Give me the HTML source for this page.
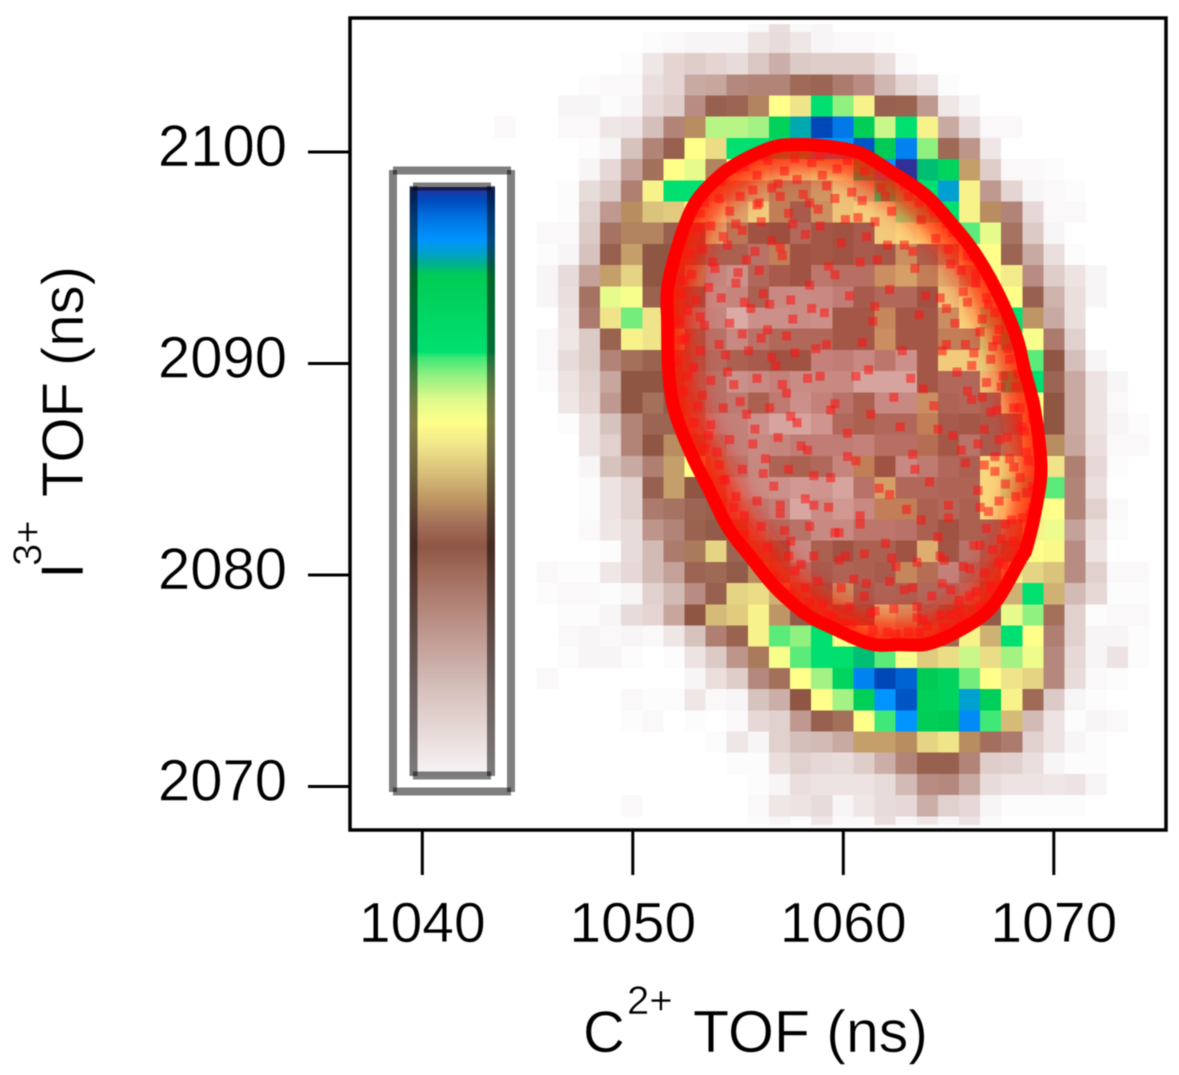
<!DOCTYPE html>
<html lang="en">
<head>
<meta charset="utf-8">
<title>C2+ vs I3+ TOF coincidence map</title>
<style>
html,body{margin:0;padding:0;background:#fff;width:1179px;height:1075px;overflow:hidden}
svg{display:block;filter:blur(0.45px)}
text{font-family:"Liberation Sans",Arial,sans-serif;fill:#000;stroke:#fff;stroke-width:0.5px}
</style>
</head>
<body>
<svg id="chart" xmlns="http://www.w3.org/2000/svg" width="1179" height="1075" viewBox="0 0 1179 1075">
  <defs>
    <clipPath id="plot-clip"><rect x="352" y="24" width="812" height="801"/></clipPath>
    <clipPath id="ellipse-clip"><path id="ellipse-clip-shape" d=""/></clipPath>
    <linearGradient id="bar-gradient" x1="0" y1="1" x2="0" y2="0"></linearGradient>
    <filter id="soft-edge" x="-20%" y="-20%" width="140%" height="140%"><feGaussianBlur stdDeviation="12"/></filter>
  </defs>
  <rect width="1179" height="1075" fill="#fff"/>
  <g id="heatmap" clip-path="url(#plot-clip)"></g>
  <g id="overlay" clip-path="url(#ellipse-clip)"></g>
  <g id="colorbar"></g>
  <rect x="350" y="18" width="816" height="812" fill="none" stroke="#000" stroke-width="3.5"/>
  <g id="axes"></g>
  <g>
    <text x="583" y="1052" font-size="58">C</text>
    <text x="627" y="1014" font-size="40">2+</text>
    <text x="693" y="1052" font-size="59">TOF (ns)</text>
  </g>
  <g>
    <text transform="translate(83,579) rotate(-90)" font-size="60">I</text>
    <text transform="translate(41,566) rotate(-90)" font-size="40">3+</text>
    <text transform="translate(83,497) rotate(-90)" font-size="58">TOF (ns)</text>
  </g>
</svg>
<script>
// ---- chart data ----
const xTicks = [1040, 1050, 1060, 1070];
const yTicks = [2100, 2090, 2080, 2070];
const xStart = 1043.43;
const binWidth = 1.003;
const yStart = 2106.68;
const binHeight = 1.0024;

// colour scale positions (percent of maximum) and colours
const scalePositions = [0, 8, 15, 27, 35, 39, 43, 46, 51, 56, 60, 64, 68, 71, 72, 85, 87, 89, 91, 95, 98, 100];
const scaleColors = ["#f8f5f6", "#e6d8d6", "#d5bfba", "#b88c82", "#a06a58", "#8f5644", "#a3705a", "#b88d60", "#d5bb78", "#f0e48a", "#ffff8a", "#ddf98c", "#90f080", "#40e878", "#00e070", "#00cc55", "#00b090", "#00a0d0", "#0094ff", "#0070e0", "#0048b8", "#303098"];

// counts (percent of max), one row per I3+ bin from top to bottom, one value per C2+ bin; trailing zeros omitted
const heatRows = [
[0,0,0,0,0,0,0,0,0,0,0,0,2,6,2,3],
[0,0,0,0,0,0,0,1,2,3,3,3,5,7,4,3,2,2,1],
[0,0,0,0,0,0,1,4,9,11,9,7,13,19,12,11,11,11,6,2],
[0,0,0,0,1,2,2,6,9,20,21,28,29,29,35,36,31,27,17,9,5,1],
[0,0,0,3,3,1,3,8,11,27,37,36,45,60,56,72,68,58,37,41,24,4,3],
[2,0,0,2,2,4,5,15,29,46,66,66,67,82,88,98,94,84,65,72,58,20,7,2,2],
[0,0,0,0,1,3,14,29,37,60,55,72,72,78,80,91,91,97,85,93,68,42,25,4],
[0,0,0,0,3,8,22,43,60,63,45,60,58,55,56,63,58,80,91,100,86,80,48,11,2,2,1],
[0,0,0,1,7,12,30,58,72,72,50,49,50,46,46,49,55,52,72,70,72,89,58,24,9,3,2,1],
[0,0,0,1,10,24,46,52,53,60,56,51,56,46,36,48,55,57,56,68,70,72,58,46,29,8,2,2],
[0,0,2,2,12,33,45,45,37,38,52,45,38,39,33,37,38,36,56,58,60,60,70,63,33,12,3],
[0,0,1,3,14,37,48,39,39,40,35,35,30,46,38,37,38,36,37,48,42,46,60,60,36,20,6,1],
[0,0,3,7,22,48,54,39,39,46,25,22,33,36,38,29,31,31,48,50,46,52,48,60,57,27,11,5,3],
[0,0,3,6,33,63,61,41,38,38,24,25,35,24,23,24,27,36,33,33,38,55,62,60,60,37,18,6,3],
[0,0,0,5,31,56,69,56,38,30,25,15,22,22,23,22,37,37,47,37,37,48,58,68,72,47,20,6],
[0,0,2,4,12,41,58,56,50,36,30,24,30,33,33,33,37,37,48,37,37,46,46,65,75,61,31,10],
[0,0,2,7,12,29,43,41,37,36,32,35,36,38,38,26,27,24,29,22,37,56,56,64,64,70,39,15,3],
[0,0,1,5,10,21,39,39,38,34,30,22,24,26,23,24,24,17,17,17,37,33,33,55,72,72,36,20,5,3],
[0,0,0,4,9,24,39,43,38,35,30,28,35,28,22,26,30,35,24,24,48,34,33,35,55,60,39,20,5,2],
[0,0,0,1,5,14,29,36,36,32,26,26,22,17,17,21,33,35,33,33,46,36,37,36,36,60,39,20,5,3,1],
[0,0,0,0,5,10,29,39,46,38,30,26,24,25,27,27,27,26,31,31,44,37,30,36,45,60,46,21,6,2,2],
[0,0,0,0,3,14,20,30,48,60,45,29,24,34,35,33,25,46,38,24,28,33,35,58,62,55,56,30,8,1],
[0,0,0,0,1,5,10,37,48,39,32,24,23,22,20,21,17,30,50,33,33,34,34,58,65,68,70,29,6],
[0,0,0,0,1,5,10,31,33,36,37,26,28,26,16,23,20,24,46,46,35,33,35,58,60,60,60,29,10,2],
[0,0,0,0,2,4,7,25,29,41,38,37,30,32,30,24,24,29,29,30,35,38,35,35,45,58,62,22,6,1],
[0,0,0,0,0,1,7,16,31,44,54,36,35,38,24,35,38,35,35,38,52,40,30,35,38,60,59,27,5],
[0,0,2,1,1,4,8,16,22,36,42,38,46,36,30,36,34,35,36,47,44,26,33,36,58,54,52,27,10,2,2],
[0,0,1,2,2,1,3,10,16,27,37,54,55,50,42,38,48,36,34,35,33,33,30,38,50,72,50,16,8,1,1],
[0,0,0,1,1,3,7,9,21,39,51,53,58,47,38,36,38,38,53,50,35,38,38,38,63,68,43,10,1,2,2],
[0,0,0,2,3,2,3,2,4,14,30,41,58,70,68,72,60,58,54,50,45,42,58,50,72,60,30,10,3,3,1],
[0,0,0,1,3,3,1,0,1,5,12,25,44,61,70,72,73,86,70,61,53,55,65,55,67,62,28,8,3,5,1],
[0,0,2,0,0,0,0,0,0,3,6,11,28,43,60,67,80,93,98,96,85,80,69,60,56,54,28,7,2,1],
[0,0,0,0,0,0,2,1,1,4,2,3,14,19,39,60,67,83,91,97,83,80,89,83,58,35,12,3,1],
[0,0,0,0,0,0,1,2,0,1,0,2,8,10,24,37,43,60,71,91,84,85,92,71,51,16,5,1,3,2],
[0,0,0,0,0,0,0,0,0,0,1,4,3,10,15,16,20,48,48,46,54,56,46,34,31,10,5,3,1],
[0,0,0,0,0,0,0,0,0,0,0,1,1,6,10,8,7,11,19,29,37,37,29,11,10,6,3,1,1],
[0,0,0,0,0,0,0,0,0,0,0,0,1,3,6,5,5,5,7,16,27,28,20,7,5,5,4,5,3],
[0,0,0,0,0,0,2,0,0,0,0,0,2,4,5,7,3,4,7,8,19,10,8,3,1,1,1,1],
[0,0,0,0,0,0,0,0,0,0,0,0,1,3,1,4,2,2,6,3,4,3,5,2]
];

// outline of the dense red ring, in (C2+ ns, I3+ ns)
const ringX = [1057.9,1059.3,1060.9,1062.5,1064.1,1065.4,1066.5,1067.6,1068.5,1068.9,1069.4,1069.7,1069.45,1069.0,1068.7,1067.3,1065.65,1064.1,1062.7,1061.2,1059.3,1058.05,1056.6,1055.4,1054.25,1053.3,1052.5,1051.7,1051.4,1051.35,1051.35,1051.8,1052.5,1053.3,1054.6,1056.5];
const ringY = [2100.66,2100.57,2100.24,2099.29,2098.2,2096.8,2095.4,2093.5,2091.4,2089.8,2087.8,2085.1,2083.1,2081.2,2080.6,2078.3,2077.1,2076.45,2076.4,2076.45,2077.25,2077.9,2079.15,2080.6,2082.1,2084.0,2085.6,2087.65,2089.55,2091.9,2093.6,2095.5,2097.4,2098.5,2099.6,2100.5];

// individual red events inside the ring, in (C2+ ns, I3+ ns)
const eventsX = [1055.3,1056.4,1057.2,1058.5,1059.7,1061.3,1062.6,1054.2,1055.7,1056.9,1058.1,1059.2,1060.4,1061.8,1063.1,1064.2,1053.4,1054.6,1055.9,1057.4,1058.8,1060.7,1062.3,1063.7,1065.2,1053.1,1054.3,1055.2,1056.6,1058.2,1059.9,1061.1,1062.9,1064.4,1065.9,1052.7,1053.8,1055.4,1057.1,1059.3,1061.6,1063.4,1065.1,1066.3,1052.4,1053.6,1054.9,1056.2,1058.4,1060.3,1062.2,1064.6,1065.7,1066.9,1052.6,1053.2,1055.6,1057.6,1059.1,1061.4,1063.6,1065.3,1066.6,1067.4,1052.3,1054.1,1056.1,1058.7,1060.9,1062.8,1064.9,1066.2,1067.1,1067.9,1052.9,1054.5,1056.8,1058.9,1061.2,1063.2,1065.4,1066.8,1067.6,1068.2,1053.3,1055.1,1057.3,1059.6,1062.4,1064.3,1066.1,1067.3,1068.4,1053.7,1055.8,1057.8,1060.2,1062.7,1065.2,1066.7,1067.8,1068.6,1054.0,1056.3,1058.3,1060.6,1063.3,1065.8,1067.2,1068.1,1068.8,1054.4,1056.7,1059.4,1061.7,1064.1,1066.4,1067.7,1068.7,1069.0,1054.8,1057.0,1058.6,1060.8,1063.0,1065.0,1066.9,1068.0,1068.9,1055.3,1057.5,1059.8,1062.0,1064.5,1066.5,1067.5,1068.5,1055.7,1058.0,1060.1,1062.5,1064.8,1066.0,1067.4,1068.3,1056.2,1058.2,1060.5,1062.9,1064.7,1066.3,1067.0,1068.1,1056.9,1059.0,1061.0,1063.5,1065.5,1066.7,1067.6,1057.4,1059.5,1061.5,1063.8,1065.1,1066.1,1067.1,1058.1,1060.0,1062.1,1064.0,1065.6,1066.6,1059.2,1061.3,1063.1,1064.6,1065.9,1060.4,1062.6,1064.2,1065.3];
const eventsY = [2099.3,2099.6,2099.1,2099.5,2099.2,2099.7,2098.9,2098.6,2098.2,2098.5,2098.0,2098.4,2098.1,2098.3,2097.9,2097.4,2097.6,2097.2,2097.5,2097.1,2097.3,2096.9,2097.2,2096.8,2096.2,2096.4,2096.0,2096.3,2095.8,2096.1,2095.7,2096.0,2095.6,2095.9,2095.1,2095.2,2094.8,2094.9,2095.1,2094.6,2094.9,2094.5,2094.7,2094.2,2093.9,2093.6,2093.8,2093.3,2093.7,2093.2,2093.5,2093.1,2093.4,2092.8,2092.5,2092.2,2092.6,2092.1,2092.4,2092.0,2092.3,2091.9,2092.1,2091.6,2091.1,2090.9,2091.2,2090.7,2091.0,2090.6,2090.9,2090.5,2090.8,2090.2,2089.8,2089.6,2089.9,2089.4,2089.7,2089.3,2089.6,2089.1,2089.4,2088.9,2088.5,2088.2,2088.6,2088.1,2088.4,2088.0,2088.3,2087.8,2087.9,2087.1,2086.9,2087.2,2086.7,2087.0,2086.6,2086.9,2086.5,2086.8,2085.8,2085.5,2085.9,2085.4,2085.7,2085.3,2085.6,2085.1,2085.4,2084.5,2084.2,2084.6,2084.1,2084.4,2084.0,2084.3,2083.9,2084.2,2083.2,2082.9,2083.3,2082.8,2083.1,2082.7,2083.0,2082.6,2082.9,2081.9,2081.6,2082.0,2081.5,2081.8,2081.4,2081.7,2081.3,2080.8,2080.5,2080.9,2080.4,2080.7,2080.3,2080.6,2080.2,2079.7,2079.4,2079.8,2079.3,2079.6,2079.2,2079.5,2079.1,2078.9,2078.6,2079.0,2078.5,2078.8,2078.4,2078.7,2078.2,2078.0,2078.3,2077.9,2078.1,2077.8,2078.0,2077.5,2077.7,2077.3,2077.6,2077.9,2077.4,2077.2,2077.0,2077.3,2077.1,2077.5];

// further events where the cloud is densest: [C2+ ns, I3+ ns]
const denseEvents = [
[1053.8,2098.9],[1054.9,2099.2],[1055.9,2098.9],[1056.2,2099.8],[1057.7,2099.7],[1058.9,2099.8],[1060.2,2099.6],[1061.0,2099.1],[1059.0,2098.9],[1057.8,2098.7],
[1056.6,2098.3],[1055.1,2097.9],[1054.1,2097.8],[1053.2,2097.1],[1056.0,2097.6],[1057.0,2097.9],[1058.4,2097.6],[1059.6,2097.8],[1060.9,2097.7],[1062.0,2097.9],
[1062.9,2098.4],[1063.6,2097.6],[1061.5,2096.7],[1060.1,2096.8],[1058.9,2096.5],[1057.6,2096.6],[1056.1,2096.7],[1054.9,2096.6],[1053.7,2096.5],[1052.6,2096.7],
[1052.3,2095.7],[1053.3,2095.4],[1054.5,2095.6],[1055.8,2095.3],[1057.0,2095.5],[1064.9,2096.6],[1064.3,2097.1],[1065.6,2096.0],[1065.0,2095.4],[1066.2,2095.0],
[1066.8,2094.6],[1065.6,2094.4],[1066.3,2093.8],[1067.2,2093.6],[1067.7,2092.9],[1066.8,2093.1],[1065.9,2092.9],[1067.2,2092.4],[1068.0,2092.2],[1068.2,2091.4],
[1067.3,2091.1],[1066.5,2091.5],[1065.8,2090.9],[1067.8,2090.7],[1068.5,2090.4],[1067.0,2090.2],[1066.1,2089.9],[1068.3,2089.5],[1068.8,2089.1],[1067.5,2088.9],
[1066.6,2088.4],[1065.9,2088.7],[1068.9,2088.3],[1068.1,2087.9],[1067.0,2087.7],[1069.0,2087.4],[1068.5,2087.0],[1067.4,2086.4],[1066.4,2086.2],[1069.2,2086.3],
[1068.7,2085.8],[1067.9,2085.5],[1067.2,2084.9],[1069.3,2085.0],[1068.4,2084.6],[1066.7,2085.2],[1069.1,2084.0],[1068.2,2083.7],[1067.4,2083.5],[1066.5,2083.2],
[1069.0,2083.2],[1068.5,2082.7],[1067.7,2082.4],[1066.8,2082.2],[1068.8,2082.0],[1068.1,2081.6],[1067.1,2081.2],[1066.2,2081.4],[1068.3,2080.9],[1067.6,2080.5],
[1066.7,2080.1],[1065.7,2080.4],[1067.9,2080.0],[1067.0,2079.3],[1066.0,2079.0],[1065.1,2079.3],[1064.2,2079.0],[1067.3,2079.0],[1066.5,2078.5],[1065.5,2078.3],
[1064.6,2078.1],[1063.5,2078.0],[1062.4,2078.4],[1061.3,2078.2],[1060.3,2078.5],[1059.3,2078.1],[1058.4,2078.7],[1057.5,2079.1],[1056.7,2079.9],[1057.7,2080.2],
[1058.8,2079.7],[1059.9,2079.4],[1061.1,2079.6],[1062.2,2079.7],[1063.3,2079.4],[1060.4,2077.7],[1061.4,2077.4],[1062.5,2077.2],[1063.6,2077.3],[1064.8,2077.5],
[1065.9,2077.7],[1052.0,2094.7],[1052.8,2094.2],[1053.9,2094.5],[1055.0,2094.3],[1056.0,2094.4],[1052.3,2093.3],[1053.0,2093.0],[1054.2,2093.1],[1055.3,2092.9],
[1056.5,2092.8],[1057.5,2093.0],[1052.2,2092.0],[1053.4,2091.8],[1054.6,2091.9],[1055.2,2091.4],[1056.4,2091.6],[1057.3,2091.3],[1052.5,2091.2],[1053.2,2090.6],
[1054.4,2090.4],[1055.5,2090.6],[1056.6,2090.3],[1057.7,2090.5],[1052.1,2090.1],[1052.6,2089.4],[1053.7,2089.2],[1054.8,2089.0],[1055.9,2089.3],[1057.1,2089.0],
[1052.4,2088.7],[1053.1,2088.0],[1054.3,2087.9],[1055.4,2087.6],[1056.5,2087.9],[1057.5,2087.5],[1052.9,2087.2],[1053.6,2086.6],[1054.6,2086.4],[1055.7,2086.2],
[1056.9,2086.5],[1058.0,2086.1],[1053.4,2086.0],[1054.1,2085.2],[1055.2,2085.0],[1056.2,2084.8],[1057.4,2085.0],[1058.6,2084.7],[1054.3,2084.5],[1054.9,2083.7],
[1055.9,2083.5],[1057.0,2083.3],[1058.2,2083.6],[1059.3,2083.2],[1055.3,2082.8],[1056.1,2082.3],[1057.2,2082.1],[1058.4,2082.3],[1059.6,2082.0],[1060.8,2082.4],
[1056.4,2081.3],[1057.4,2080.9],[1058.6,2080.9],[1059.8,2080.7],[1061.0,2081.0],[1062.3,2080.8],[1063.5,2080.6],[1064.6,2080.9],[1060.2,2085.6],[1061.3,2087.6],
[1059.4,2087.8],[1058.3,2089.3],[1059.2,2090.9],[1058.5,2092.6],[1059.6,2094.2],[1060.8,2094.8],[1062.1,2095.6],[1063.3,2095.3],[1063.9,2093.2],[1064.9,2092.6],
[1064.7,2090.6],[1063.8,2088.8],[1064.5,2086.9],[1063.4,2085.0],[1062.2,2083.8],[1063.7,2082.6],[1065.0,2083.3],[1065.6,2085.9],[1061.5,2092.7],[1060.6,2089.4]
];

// ---- axis functions ----
function xPos(v){ return 422.3 + (v - 1040) * 21.05; }
function yPos(v){ return 152 + (2100 - v) * 21.15; }

const SVGNS = "http://www.w3.org/2000/svg";
function make(tag, attrs, parent){
  const el = document.createElementNS(SVGNS, tag);
  for (const k in attrs) el.setAttribute(k, attrs[k]);
  parent.appendChild(el);
  return el;
}
function hexToRgb(h){ return [parseInt(h.slice(1,3),16), parseInt(h.slice(3,5),16), parseInt(h.slice(5,7),16)]; }
function colorFor(v){
  for (let i = 1; i < scalePositions.length; i++){
    if (v <= scalePositions[i]){
      const t = (v - scalePositions[i-1]) / (scalePositions[i] - scalePositions[i-1]);
      const a = hexToRgb(scaleColors[i-1]), b = hexToRgb(scaleColors[i]);
      return "rgb(" + a.map((c,j)=>Math.round(c + (b[j]-c)*t)).join(",") + ")";
    }
  }
  return scaleColors[scaleColors.length-1];
}

// ---- heatmap ----
const heatGroup = document.getElementById("heatmap");
heatRows.forEach((row, r) => {
  row.forEach((val, c) => {
    if (!val) return;
    const x0 = xPos(xStart + c * binWidth), x1 = xPos(xStart + (c + 1) * binWidth);
    const y0 = yPos(yStart - r * binHeight), y1 = yPos(yStart - (r + 1) * binHeight);
    const tint = val < 4 ? "rgb(" + [255 - val * 2.6, 255 - val * 3.4, 255 - val * 3.4].map(Math.round).join(",") + ")" : colorFor(val);
    const cell = make("rect", {x: x0.toFixed(1), y: y0.toFixed(1), width: (x1 - x0).toFixed(1), height: (y1 - y0).toFixed(1), fill: tint, "shape-rendering": "crispEdges"}, heatGroup);
    
    
  });
});

// ---- red ring and events ----
function smoothClosedPath(xs, ys){
  const n = xs.length;
  const px = xs.map(xPos), py = ys.map(yPos);
  let d = "M" + px[0].toFixed(1) + " " + py[0].toFixed(1);
  for (let i = 0; i < n; i++){
    const a = (i - 1 + n) % n, b = i, c = (i + 1) % n, e = (i + 2) % n;
    const c1x = px[b] + (px[c] - px[a]) / 6, c1y = py[b] + (py[c] - py[a]) / 6;
    const c2x = px[c] - (px[e] - px[b]) / 6, c2y = py[c] - (py[e] - py[b]) / 6;
    d += "C" + c1x.toFixed(1) + " " + c1y.toFixed(1) + " " + c2x.toFixed(1) + " " + c2y.toFixed(1) + " " + px[c].toFixed(1) + " " + py[c].toFixed(1);
  }
  return d + "Z";
}
const ringPath = smoothClosedPath(ringX, ringY);
document.getElementById("ellipse-clip-shape").setAttribute("d", ringPath);
const overlay = document.getElementById("overlay");
const tintFill = make("path", {d: ringPath, fill: "#ff2020", "fill-opacity": "0.13"}, overlay);


const edgeGlow = make("path", {d: ringPath, fill: "none", stroke: "#ff1500", "stroke-width": "64", "stroke-opacity": "0.85", filter: "url(#soft-edge)"}, overlay);


function drawEvent(x, y){
  const px = xPos(x), py = yPos(y);
  const dot = make("rect", {x: (px - 4.5).toFixed(1), y: (py - 4.5).toFixed(1), width: 9, height: 9, fill: "#ff1414", "fill-opacity": "0.55"}, overlay);
  
  
}
eventsX.forEach((x, i) => drawEvent(x, eventsY[i]));
denseEvents.forEach(p => drawEvent(p[0], p[1]));
const ring = make("path", {d: ringPath, fill: "none", stroke: "#ff0000", "stroke-width": "26", "stroke-linejoin": "round"}, overlay);



// ---- colour bar ----
const grad = document.getElementById("bar-gradient");
scalePositions.forEach((p, i) => {
  make("stop", {offset: p + "%", "stop-color": scaleColors[i]}, grad);
});
const bar = document.getElementById("colorbar");
const barFill = make("rect", {x: 410, y: 187, width: 85, height: 589, fill: "url(#bar-gradient)"}, bar);


[[393,170.5,511,170.5],[393,791.5,511,791.5],[393,170,393,792],[511,170,511,792],
 [413,186.5,491,186.5],[413,775.5,491,775.5],[413.5,186,413.5,776],[491,186,491,776]].forEach(s => {
  const ln = make("line", {x1: s[0], y1: s[1], x2: s[2], y2: s[3], stroke: "#000", "stroke-opacity": "0.5", "stroke-width": "8"}, bar);
  
  
});

// ---- axes ----
const axes = document.getElementById("axes");
xTicks.forEach(v => {
  const t = make("line", {x1: xPos(v), y1: 830, x2: xPos(v), y2: 875, stroke: "#000", "stroke-width": "3"}, axes);
  
  
  const l = make("text", {x: xPos(v), y: 942, "font-size": 57, "text-anchor": "middle"}, axes);
  l.textContent = v;
  
  
});
yTicks.forEach(v => {
  const t = make("line", {x1: 308, y1: yPos(v), x2: 350, y2: yPos(v), stroke: "#000", "stroke-width": "3"}, axes);
  
  
  const l = make("text", {x: 287, y: yPos(v) + 14, "font-size": 58, "text-anchor": "end"}, axes);
  l.textContent = v;
  
  
});
</script>
</body>
</html>
